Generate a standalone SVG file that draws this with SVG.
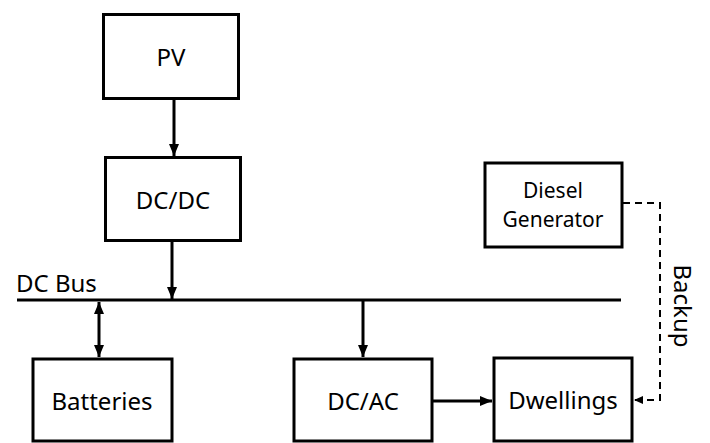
<svg xmlns="http://www.w3.org/2000/svg" width="710" height="443" viewBox="0 0 710 443">
<style>
.box{fill:#fff;stroke:#000;stroke-width:3}
.t{font-family:"Noto Sans","Open Sans",sans-serif;font-size:24px;fill:#000;text-anchor:middle}
.s{font-size:21px}
.c{fill:none;stroke:#000;stroke-width:3}
.d{fill:none;stroke:#000;stroke-width:2;stroke-dasharray:7 5}
</style>
<defs>
<marker id="ah" markerUnits="userSpaceOnUse" markerWidth="12" markerHeight="10" refX="12" refY="5" orient="auto-start-reverse">
<path d="M0,0 L12,5 L0,10 z" fill="#000"/>
</marker>
<marker id="ahs" markerUnits="userSpaceOnUse" markerWidth="9" markerHeight="8" refX="9" refY="4" orient="auto">
<path d="M0,0 L9,4 L0,8 z" fill="#000"/>
</marker>
</defs>
<rect width="710" height="443" fill="#fff"/>
<g id="connectors">
<line class="c" x1="17" y1="300" x2="621" y2="300"/>
<line class="c" x1="174" y1="99" x2="174" y2="156" marker-end="url(#ah)"/>
<line class="c" x1="172" y1="241" x2="172" y2="299" marker-end="url(#ah)"/>
<line class="c" x1="99" y1="302" x2="99" y2="357" marker-start="url(#ah)" marker-end="url(#ah)"/>
<line class="c" x1="363" y1="301" x2="363" y2="357" marker-end="url(#ah)"/>
<line class="c" x1="433" y1="401" x2="492" y2="401" marker-end="url(#ah)"/>
<path class="d" d="M623 203 H660 V400 H634" marker-end="url(#ahs)"/>
<text class="t" transform="translate(674,306) rotate(90)">Backup</text>
<text class="t" x="16" y="292" style="text-anchor:start">DC Bus</text>
</g>
<g id="pv"><rect class="box" x="103.5" y="14.5" width="135" height="84"/><text class="t" x="171" y="66">PV</text></g>
<g id="dcdc"><rect class="box" x="105.5" y="157.5" width="135" height="83"/><text class="t" x="173" y="209">DC/DC</text></g>
<g id="diesel"><rect class="box" x="485" y="163" width="137" height="84"/><text class="t s" x="553" y="198">Diesel</text><text class="t s" x="553" y="227">Generator</text></g>
<g id="batteries"><rect class="box" x="33" y="359" width="139" height="82"/><text class="t" x="102" y="410">Batteries</text></g>
<g id="dcac"><rect class="box" x="294" y="359" width="138" height="82"/><text class="t" x="363" y="410">DC/AC</text></g>
<g id="dwellings"><rect class="box" x="494" y="358" width="138" height="83"/><text class="t" x="563" y="409">Dwellings</text></g>
</svg>
